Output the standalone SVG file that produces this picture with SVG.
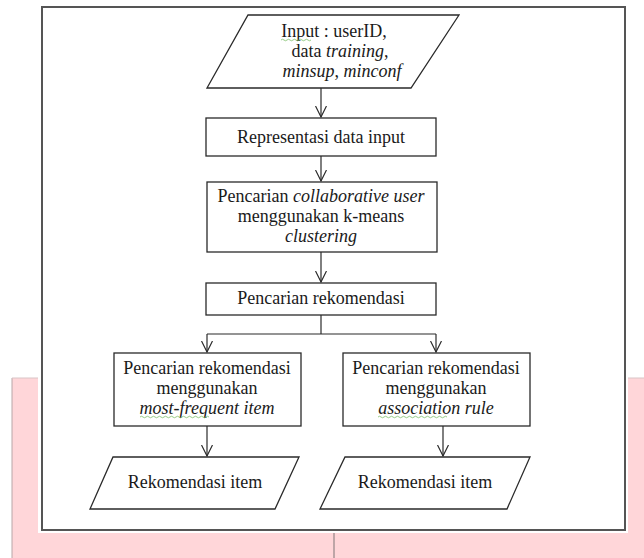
<svg xmlns="http://www.w3.org/2000/svg" width="644" height="558" viewBox="0 0 644 558">
<defs>
<style>
text{font-family:'Liberation Serif','Times New Roman',Times,serif;font-size:18px;fill:#1a1a1a;text-anchor:middle}
.i{font-style:italic}
.s{fill:#fff;stroke:#2a2a2a;stroke-width:1.3}
.c{fill:none;stroke:#2a2a2a;stroke-width:1.2}
.w{fill:none;stroke:#7dbf6a;stroke-width:0.8}
</style>
<marker id="ah" viewBox="0 0 12 12" refX="11" refY="6" markerWidth="12" markerHeight="12" markerUnits="userSpaceOnUse" orient="auto">
<path d="M0,0.5 L11,6 L0,11.5" fill="none" stroke="#2a2a2a" stroke-width="1.2"/>
</marker>
</defs>
<rect width="644" height="558" fill="#fff"/>
<g id="background">
<rect x="12" y="378" width="632" height="180" fill="#ffd6d9"/>
<line x1="12" y1="378" x2="12" y2="558" stroke="#b8a6a8" stroke-width="1"/>
<line x1="12" y1="378" x2="644" y2="378" stroke="#d9c4c6" stroke-width="1"/>
<rect x="38" y="4" width="590" height="529" fill="#fff"/>
<line x1="334" y1="533" x2="334" y2="558" stroke="#a89496" stroke-width="1.5"/>
<rect x="42" y="7" width="583" height="523" fill="#fff" stroke="#555" stroke-width="2"/>
</g>
<g id="connectors">
<line class="c" x1="321" y1="88" x2="321" y2="117" marker-end="url(#ah)"/>
<line class="c" x1="321" y1="156" x2="321" y2="181" marker-end="url(#ah)"/>
<line class="c" x1="321" y1="252" x2="321" y2="282" marker-end="url(#ah)"/>
<path class="c" d="M321,315 V334"/>
<path class="c" d="M207,334 H436"/>
<line class="c" x1="207" y1="334" x2="207" y2="352" marker-end="url(#ah)"/>
<line class="c" x1="436" y1="334" x2="436" y2="352" marker-end="url(#ah)"/>
<line class="c" x1="207" y1="426" x2="207" y2="456" marker-end="url(#ah)"/>
<line class="c" x1="443" y1="426" x2="443" y2="456" marker-end="url(#ah)"/>
</g>
<g id="input">
<polygon class="s" points="248,15 459,15 411,88 207,88"/>
<text x="334" y="37">Input : userID,</text>
<path class="w" d="M281,40 q1.5,-1.5 3,0 t3,0 t3,0 t3,0 t3,0 t3,0 t3,0 t3,0 t3,0 t3,0"/>
<text x="340" y="57">data <tspan class="i">training</tspan>,</text>
<text x="342" y="77"><tspan class="i">minsup</tspan>, <tspan class="i">minconf</tspan></text>
</g>
<g id="representasi">
<rect class="s" x="206" y="118" width="230" height="38"/>
<text x="321" y="143">Representasi data input</text>
</g>
<g id="collaborative">
<rect class="s" x="207" y="182" width="230" height="70"/>
<text x="321" y="202">Pencarian <tspan class="i">collaborative user</tspan></text>
<text x="321" y="222">menggunakan k-means</text>
<text x="321" y="242"><tspan class="i">clustering</tspan></text>
</g>
<g id="rekomendasi">
<rect class="s" x="206" y="283" width="230" height="32"/>
<text x="321" y="304">Pencarian rekomendasi</text>
</g>
<g id="mostfrequent">
<rect class="s" x="114" y="353" width="187" height="73"/>
<text x="207" y="374">Pencarian rekomendasi</text>
<text x="207" y="394">menggunakan</text>
<text x="207" y="414"><tspan class="i">most-frequent item</tspan></text>
<path class="w" d="M140,417 q1.5,-1.5 3,0 t3,0 t3,0 t3,0 t3,0 t3,0 t3,0 t3,0 t3,0 t3,0 t3,0 t3,0 t3,0 t3,0 t3,0 t3,0 t3,0 t3,0 t3,0 t3,0 t3,0 t3,0 t3,0"/>
</g>
<g id="association">
<rect class="s" x="343" y="353" width="187" height="73"/>
<text x="436" y="374">Pencarian rekomendasi</text>
<text x="436" y="394">menggunakan</text>
<text x="436" y="414"><tspan class="i">association rule</tspan></text>
<path class="w" d="M378,417 q1.5,-1.5 3,0 t3,0 t3,0 t3,0 t3,0 t3,0 t3,0 t3,0 t3,0 t3,0 t3,0 t3,0 t3,0 t3,0 t3,0 t3,0 t3,0 t3,0 t3,0 t3,0 t3,0 t3,0 t3,0"/>
</g>
<g id="output1">
<polygon class="s" points="113,457 299,457 275,509 90,509"/>
<text x="195" y="488">Rekomendasi item</text>
</g>
<g id="output2">
<polygon class="s" points="345,457 530,457 507,509 320,509"/>
<text x="425" y="488">Rekomendasi item</text>
</g>
</svg>
